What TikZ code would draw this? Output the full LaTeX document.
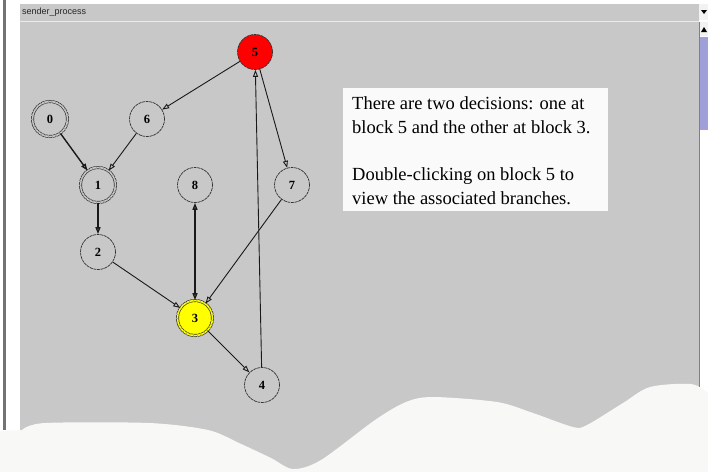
\documentclass[tikz,border=0pt]{standalone}
\usepackage{fontspec}
\setmainfont{Liberation Serif}
\newfontfamily\uisans{Liberation Sans}
\usetikzlibrary{arrows.meta}
\definecolor{panel}{HTML}{C8C8C8}
\definecolor{paper}{HTML}{F8F8F6}
\definecolor{thumb}{HTML}{A0A0D8}
\definecolor{nodered}{HTML}{FF0000}
\definecolor{nodeyellow}{HTML}{FFFF00}
\tikzset{
  blk/.style={circle, minimum size=35pt, inner sep=0pt, draw=black!80, line width=0.7pt,
    dash pattern=on 3pt off 0.7pt, fill=panel, font=\bfseries\fontsize{12.5}{13}\selectfont},
  dblk/.style={blk, double=#1, double distance=1.6pt},
  edge/.style={draw=black!90, line width=0.9pt, -{Triangle[open,length=7pt,width=5pt]}},
  thick edge/.style={edge, line width=1.4pt},
  note/.style={anchor=base west, inner sep=0pt, font=\fontsize{18.5}{20}\selectfont}
}
\begin{document}
\begin{tikzpicture}[x=1pt,y=-1pt]
\useasboundingbox (0,0) rectangle (708,472);
% window
\fill[white] (0,0) rectangle (708,472);
\fill[black!55] (3,0) rectangle (6,430);
\fill[panel] (20,4) rectangle (699,472);
\draw[white!92!black, line width=1pt] (20,21) -- (699,21);
\node[anchor=west, inner sep=0pt, font=\uisans\fontsize{9}{10}\selectfont, text=black!85] (title) at (22,12.5) {sender\_process};
% dropdown and scrollbar
\fill[white!95!black] (699,4) rectangle (708,20);
\fill[black] (701,10) -- (707,10) -- (704,14) -- cycle;
\fill[white!95!black] (699,22) rectangle (708,36);
\fill[black] (701,32) -- (707,32) -- (704,27) -- cycle;
\fill[thumb] (699,37) rectangle (708,130);
\draw[black!50, line width=0.8pt] (699,22) -- (699,400);
% note box
\fill[white!98!black] (343,88) rectangle (608,211);
\node[note] (t1) at (352,109) {There are two decisions: one at};
\node[note] (t2) at (352,133) {block 5 and the other at block 3.};
\node[note] (t3) at (352,180) {Double-clicking on block 5 to};
\node[note] (t4) at (352,204) {view the associated branches.};
% blocks
\node[blk, fill=nodered] (n5) at (255,52) {5};
\node[dblk=panel] (n0) at (50,119) {0};
\node[blk] (n6) at (147,119) {6};
\node[dblk=panel] (n1) at (98,185) {1};
\node[blk] (n8) at (195,185) {8};
\node[blk] (n7) at (292,185) {7};
\node[blk] (n2) at (98,252) {2};
\node[dblk=nodeyellow, fill=nodeyellow] (n3) at (195,318) {3};
\node[blk] (n4) at (262,385) {4};
% connectors
\draw[edge] (n5) -- (n6);
\draw[edge] (n5) -- (n7);
\draw[edge] (n4) -- (n5);
\draw[thick edge] (n0) -- (n1);
\draw[edge] (n6) -- (n1);
\draw[thick edge] (n1) -- (n2);
\draw[edge] (n2) -- (n3);
\draw[edge] (n7) -- (n3);
\draw[thick edge, {Triangle[open,length=7pt,width=5pt]}-{Triangle[open,length=7pt,width=5pt]}] (n3) -- (n8);
\draw[edge] (n3) -- (n4);
% torn paper
\fill[paper] (0,472) -- (0,431) -- plot[smooth, tension=0.5] coordinates {
 (22,430) (45,423) (149,423) (208,430) (239,443) (271,458) (293,469) (321,460)
 (375,420) (406,402) (433,397) (497,402) (533,413) (573,427) (587,425) (623,403)
 (650,387) (691,384) (708,393)} -- (708,472) -- cycle;
\end{tikzpicture}
\end{document}
